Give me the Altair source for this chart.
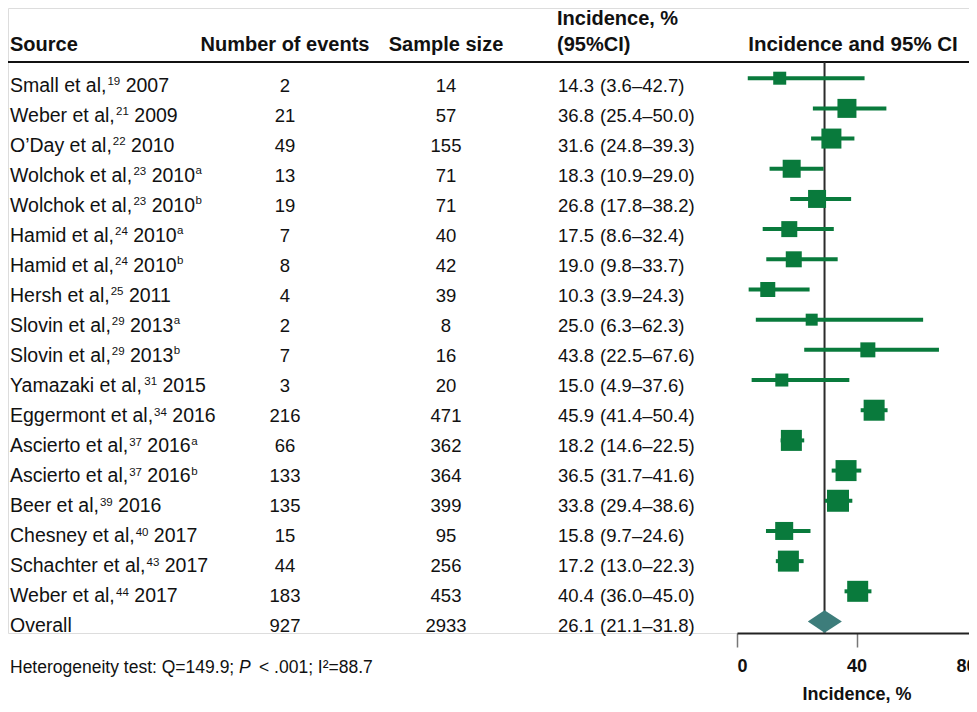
import altair as alt
import pandas as pd

# ---- data ----
authors = ["Small et al,", "Weber et al,", "O’Day et al,", "Wolchok et al,", "Wolchok et al,",
           "Hamid et al,", "Hamid et al,", "Hersh et al,", "Slovin et al,", "Slovin et al,",
           "Yamazaki et al,", "Eggermont et al,", "Ascierto et al,", "Ascierto et al,",
           "Beer et al,", "Chesney et al,", "Schachter et al,", "Weber et al,", "Overall"]
refs = ["19", "21", "22", "23", "23", "24", "24", "25", "29", "29", "31", "34", "37", "37",
        "39", "40", "43", "44", ""]
years = ["2007", "2009", "2010", "2010", "2010", "2010", "2010", "2011", "2013", "2013",
         "2015", "2016", "2016", "2016", "2016", "2017", "2017", "2017", ""]
letters = ["", "", "", "a", "b", "a", "b", "", "a", "b", "", "", "a", "b", "", "", "", "", ""]
events = [2, 21, 49, 13, 19, 7, 8, 4, 2, 7, 3, 216, 66, 133, 135, 15, 44, 183, 927]
samples = [14, 57, 155, 71, 71, 40, 42, 39, 8, 16, 20, 471, 362, 364, 399, 95, 256, 453, 2933]
incidence = [14.3, 36.8, 31.6, 18.3, 26.8, 17.5, 19.0, 10.3, 25.0, 43.8, 15.0, 45.9,
             18.2, 36.5, 33.8, 15.8, 17.2, 40.4, 26.1]
ci_low = [3.6, 25.4, 24.8, 10.9, 17.8, 8.6, 9.8, 3.9, 6.3, 22.5, 4.9, 41.4,
          14.6, 31.7, 29.4, 9.7, 13.0, 36.0, 21.1]
ci_high = [42.7, 50.0, 39.3, 29.0, 38.2, 32.4, 33.7, 24.3, 62.3, 67.6, 37.6, 50.4,
           22.5, 41.6, 38.6, 24.6, 22.3, 45.0, 31.8]
# relative study weights (square side as drawn)
weights = [13, 19, 20, 18, 18, 16, 16, 15, 12, 15, 13, 21, 21, 21, 22, 18, 21, 21]
# overall diamond and reference line as drawn in the figure
diamond_est = 29.3
diamond_low = 23.7
diamond_high = 35.1
headers = ["Source", "Number of events", "Sample size", "Incidence, %", "(95%CI)",
           "Incidence and 95% CI"]
het_parts = ["Heterogeneity test: Q=149.9;", "P", "< .001; I²=88.7"]
axis_ticks = [0, 40, 80]
axis_title = "Incidence, %"

# ---- text metrics (Arial / Liberation Sans advance widths, per 1000 em) ----
ADV = {' ': 278, ',': 278, '.': 278, '’': 222,
       'a': 556, 'b': 556, 'c': 500, 'd': 556, 'e': 556, 'f': 278, 'g': 556, 'h': 556,
       'i': 222, 'k': 500, 'l': 222, 'm': 833, 'n': 556, 'o': 556, 'p': 556, 'r': 333,
       's': 500, 't': 278, 'u': 556, 'v': 500, 'w': 722, 'y': 500, 'z': 500,
       'A': 667, 'B': 667, 'C': 722, 'D': 722, 'E': 667, 'H': 722, 'O': 778, 'S': 667,
       'W': 944, 'Y': 667}


def tw(s, size):
    return sum(ADV.get(c, 556) for c in s) * size / 1000.0


FONT = "Liberation Sans"
FS_SRC = 19.5
FS_SUP = 11.5
FS_NUM = 18.5
FS_HDR = 20

# ---- build tables ----
n = len(authors)
seg_rows = []
for i in range(n):
    x = 2.0
    seg_rows.append({"row": i, "t": authors[i], "px": x, "kind": "main"})
    x += tw(authors[i], FS_SRC) + 1
    if refs[i]:
        seg_rows.append({"row": i, "t": refs[i], "px": x, "kind": "sup"})
        x += tw(refs[i], FS_SUP) + tw(" ", FS_SRC)
    if years[i]:
        seg_rows.append({"row": i, "t": years[i], "px": x, "kind": "main"})
        x += tw(years[i], FS_SRC) + 0.5
    if letters[i]:
        seg_rows.append({"row": i, "t": letters[i], "px": x, "kind": "letter"})
segs = pd.DataFrame(seg_rows)

rows = pd.DataFrame({
    "row": list(range(n)),
    "events": [str(v) for v in events],
    "sample": [str(v) for v in samples],
    "inc": [f"{v:.1f}" for v in incidence],
    "ci": [f"({a:.1f}–{b:.1f})" for a, b in zip(ci_low, ci_high)],
})
ns = len(weights)
studies = pd.DataFrame({
    "row": list(range(ns)),
    "est": incidence[:ns],
    "lo": ci_low[:ns],
    "hi": ci_high[:ns],
    "w": weights,
})
overall_row = n - 1
half = 0.37
diamond = pd.DataFrame({
    "x": [diamond_low, diamond_est, diamond_high],
    "y": [overall_row, overall_row - half, overall_row],
    "y2": [overall_row, overall_row + half, overall_row],
})
ref = pd.DataFrame({"x": [diamond_est]})

GREEN = "#097a3c"
TEAL = "#3d7d7b"
INK = "#111111"

W, H = 961, 625
xscale = alt.Scale(domain=[0, 80], range=[729, 968], nice=False, zero=False)
xaxis = alt.Axis(values=axis_ticks, title=axis_title, grid=False, format="d",
                 labelFont=FONT, labelFontSize=18, labelFontWeight="bold", labelColor=INK,
                 titleFont=FONT, titleFontSize=18, titleFontWeight="bold", titleColor=INK,
                 domainColor="#222", domainWidth=2, tickColor="#777", tickWidth=1.5,
                 tickSize=14, labelPadding=10, titlePadding=10)
# marker rows and text baselines (independent y scales)
yscale = alt.Scale(domain=[0, n - 1], range=[70.2, 613.5], nice=False, zero=False)
tscale = alt.Scale(domain=[0, n - 1], range=[83.6, 624.3], nice=False, zero=False)
yenc = alt.Y("row:Q", scale=yscale, axis=None)
tenc = alt.Y("row:Q", scale=tscale, axis=None)

# source column (main text + superscripts)
def seg_layer(kind, size, dy):
    return alt.Chart(segs).transform_filter(alt.datum.kind == kind).mark_text(
        font=FONT, fontSize=size, align="left", baseline="alphabetic", dy=dy, color=INK
    ).encode(x=alt.X("px:Q", scale=None), y=tenc, text="t:N")

src_layers = [seg_layer("main", FS_SRC, 0), seg_layer("sup", FS_SUP, -6.5),
              seg_layer("letter", FS_SUP, -7.5)]

base_rows = alt.Chart(rows)

def col(field, xpx, align):
    return base_rows.mark_text(font=FONT, fontSize=FS_NUM, align=align, baseline="alphabetic",
                               color=INK).encode(x=alt.value(xpx), y=tenc, text=f"{field}:N")

text_cols = [
    col("events", 277, "center"),
    col("sample", 438, "center"),
    col("inc", 550, "left"),
    col("ci", 592, "left"),
]

hdr = pd.DataFrame({"t": headers})

def header(i, xpx, ypx, align, size=FS_HDR):
    return alt.Chart(hdr).transform_filter(alt.datum.t == headers[i]).mark_text(
        font=FONT, fontSize=size, fontWeight="bold", align=align, baseline="alphabetic",
        color=INK).encode(x=alt.value(xpx), y=alt.value(ypx), text="t:N")

headers_layers = [
    header(0, 2, 43, "left"),
    header(1, 277, 43, "center"),
    header(2, 438, 43, "center"),
    header(3, 549, 17, "left"),
    header(4, 549, 43, "left"),
    header(5, 845, 43, "center", 20.5),
]

het = pd.DataFrame({"t": het_parts})

def het_text(i, xpx, style):
    return alt.Chart(het).transform_filter(alt.datum.t == het_parts[i]).mark_text(
        font=FONT, fontSize=17.5, fontStyle=style, align="left", baseline="alphabetic",
        color=INK).encode(x=alt.value(xpx), y=alt.value(665), text="t:N")

het_layers = [het_text(0, 2, "normal"), het_text(1, 231, "italic"), het_text(2, 251, "normal")]

header_rule = alt.Chart(hdr).transform_filter(alt.datum.t == headers[0]).mark_rule(
    color=INK, strokeWidth=2).encode(x=alt.value(0), x2=alt.value(W), y=alt.value(54))

ref_line = alt.Chart(ref).mark_rule(color="#2b2b2b", strokeWidth=2).encode(
    x=alt.X("x:Q", scale=xscale, axis=xaxis), y=alt.value(54), y2=alt.value(H))

ci_rules = alt.Chart(studies).mark_rule(color=GREEN, strokeWidth=4).encode(
    x=alt.X("lo:Q", scale=xscale, axis=xaxis), x2="hi:Q", y=yenc)

squares = alt.Chart(studies).mark_square(color=GREEN, opacity=1, filled=True).encode(
    x=alt.X("est:Q", scale=xscale, axis=xaxis), y=yenc,
    size=alt.Size("w:Q", scale=alt.Scale(type="pow", exponent=2, domain=[0, 22], range=[0, 484]),
                  legend=None))

diamond_mark = alt.Chart(diamond).mark_area(color=TEAL, orient="vertical", opacity=1).encode(
    x=alt.X("x:Q", scale=xscale, axis=xaxis),
    y=alt.Y("y:Q", scale=yscale, axis=None), y2="y2:Q")

chart = alt.layer(
    header_rule, ref_line, ci_rules, squares, diamond_mark,
    *src_layers, *text_cols, *headers_layers, *het_layers,
).resolve_scale(y="independent").properties(
    width=W, height=H,
    autosize=alt.AutoSizeParams(type="none"),
    padding={"left": 0, "top": 0, "right": 0, "bottom": 71},
).configure_view(stroke="transparent", strokeWidth=0).configure(background="white")

chart.save("out.html", embed_options={"renderer": "svg", "actions": False})
